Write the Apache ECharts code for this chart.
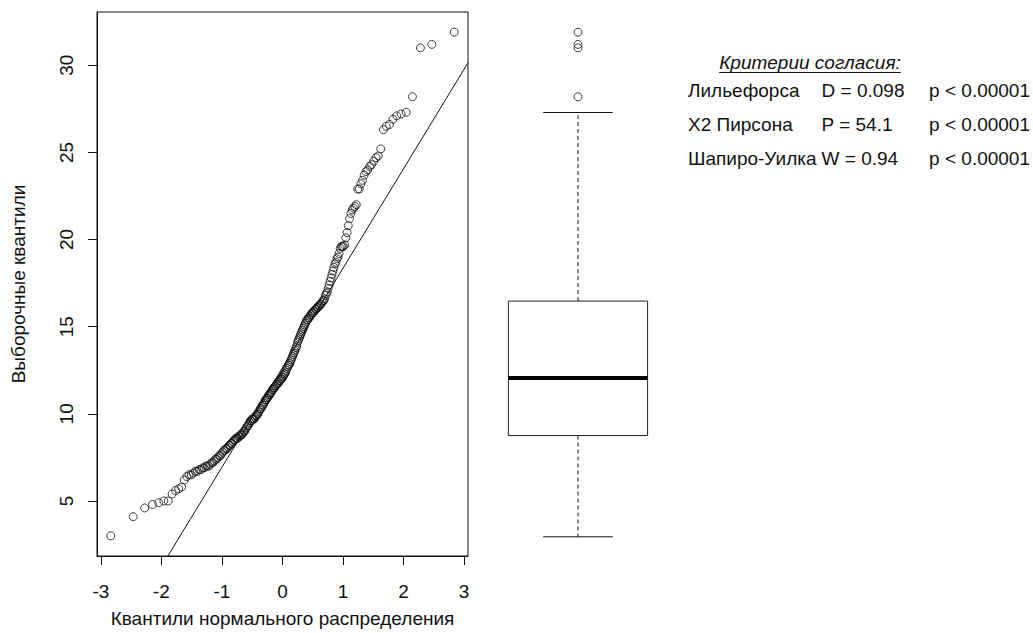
<!DOCTYPE html>
<html>
<head>
<meta charset="utf-8">
<script src="https://cdn.jsdelivr.net/npm/echarts@6/dist/echarts.min.js"></script>
<style>
  html, body { margin: 0; padding: 0; background: #fff; }
  #chart { width: 1033px; height: 633px; }
</style>
</head>
<body>
<div id="chart"></div>
<script>
// Sorted sample (n = 220)
const sampleValues = [
  3.0, 4.1, 4.6, 4.8, 4.9, 5.0, 5.0, 5.4, 5.6, 5.7,
  5.8, 6.2, 6.4, 6.5, 6.5, 6.6, 6.7, 6.7, 6.8, 6.8,
  6.9, 6.9, 7.0, 7.0, 7.0, 7.1, 7.2, 7.2, 7.3, 7.4,
  7.4, 7.5, 7.6, 7.6, 7.7, 7.8, 7.9, 7.9, 8.0, 8.0,
  8.1, 8.2, 8.2, 8.3, 8.3, 8.4, 8.5, 8.5, 8.6, 8.6,
  8.6, 8.7, 8.7, 8.8, 8.8, 8.8, 8.9, 9.0, 9.0, 9.1,
  9.2, 9.3, 9.3, 9.4, 9.5, 9.6, 9.6, 9.7, 9.7, 9.7,
  9.7, 9.8, 9.9, 9.9, 10.0, 10.0, 10.1, 10.2, 10.3, 10.3,
  10.4, 10.5, 10.5, 10.6, 10.7, 10.8, 10.8, 10.9, 10.9, 11.0,
  11.1, 11.1, 11.2, 11.2, 11.3, 11.4, 11.4, 11.5, 11.5, 11.6,
  11.6, 11.7, 11.7, 11.8, 11.8, 11.9, 11.9, 12.0, 12.0, 12.1,
  12.1, 12.2, 12.3, 12.3, 12.4, 12.5, 12.6, 12.7, 12.8, 12.8,
  12.9, 13.0, 13.1, 13.2, 13.3, 13.4, 13.5, 13.6, 13.7, 13.8,
  13.9, 14.1, 14.2, 14.3, 14.4, 14.5, 14.6, 14.7, 14.8, 14.9,
  15.0, 15.1, 15.2, 15.3, 15.4, 15.4, 15.5, 15.5, 15.6, 15.7,
  15.7, 15.8, 15.8, 15.9, 15.9, 16.0, 16.0, 16.1, 16.1, 16.2,
  16.2, 16.3, 16.3, 16.4, 16.5, 16.5, 16.6, 16.8, 16.9, 17.0,
  17.2, 17.4, 17.6, 17.8, 18.0, 18.2, 18.4, 18.6, 18.7, 18.9,
  19.0, 19.2, 19.5, 19.6, 19.6, 19.6, 19.7, 20.1, 20.4, 20.8,
  21.2, 21.5, 21.7, 21.8, 21.9, 22.0, 22.9, 22.9, 23.2, 23.4,
  23.7, 23.9, 24.0, 24.2, 24.3, 24.5, 24.7, 24.8, 25.2, 26.3,
  26.5, 26.6, 26.9, 27.1, 27.2, 27.3, 28.2, 31.0, 31.2, 31.9
];

const xTickValues = [-3, -2, -1, 0, 1, 2, 3];
const yTickValues = [5, 10, 15, 20, 25, 30];

const xTitle = 'Квантили нормального распределения';
const yTitle = 'Выборочные квантили';

const testsTitle = 'Критерии согласия:';
const testNames = ['Лильефорса', 'X2 Пирсона', 'Шапиро-Уилка'];
const testStats = ['D = 0.098', 'P = 54.1', 'W = 0.94'];
const testPValues = ['p < 0.00001', 'p < 0.00001', 'p < 0.00001'];

// Inverse standard normal CDF (Acklam)
function qnorm(p) {
  const a = [-3.969683028665376e+01, 2.209460984245205e+02, -2.759285104469687e+02, 1.383577518672690e+02, -3.066479806614716e+01, 2.506628277459239e+00];
  const b = [-5.447609879822406e+01, 1.615858368580409e+02, -1.556989798598866e+02, 6.680131188771972e+01, -1.328068155288572e+01];
  const c = [-7.784894002430293e-03, -3.223964580411365e-01, -2.400758277161838e+00, -2.549732539343734e+00, 4.374664141464968e+00, 2.938163982698783e+00];
  const d = [7.784695709041462e-03, 3.224671290700398e-01, 2.445134137142996e+00, 3.754408661907416e+00];
  const pl = 0.02425, ph = 1 - pl;
  let q, r;
  if (p < pl) {
    q = Math.sqrt(-2 * Math.log(p));
    return (((((c[0]*q+c[1])*q+c[2])*q+c[3])*q+c[4])*q+c[5]) / ((((d[0]*q+d[1])*q+d[2])*q+d[3])*q+1);
  }
  if (p > ph) {
    q = Math.sqrt(-2 * Math.log(1 - p));
    return -(((((c[0]*q+c[1])*q+c[2])*q+c[3])*q+c[4])*q+c[5]) / ((((d[0]*q+d[1])*q+d[2])*q+d[3])*q+1);
  }
  q = p - 0.5; r = q * q;
  return (((((a[0]*r+a[1])*r+a[2])*r+a[3])*r+a[4])*r+a[5])*q / (((((b[0]*r+b[1])*r+b[2])*r+b[3])*r+b[4])*r+1);
}

const sorted = sampleValues.slice().sort((u, v) => u - v);
const n = sorted.length;

// theoretical quantiles (ppoints, a = 0.5)
const qqData = sorted.map((y, i) => [qnorm((i + 0.5) / n), y]);

// type-7 quantile
function quantile(arr, p) {
  const h = (arr.length - 1) * p;
  const lo = Math.floor(h);
  const hi = Math.min(lo + 1, arr.length - 1);
  return arr[lo] + (h - lo) * (arr[hi] - arr[lo]);
}
// Tukey five-number summary
function fivenum(arr) {
  const m = arr.length;
  const n4 = Math.floor((m + 3) / 2) / 2;
  const idx = [1, n4, (m + 1) / 2, m + 1 - n4, m];
  return idx.map(k => 0.5 * (arr[Math.floor(k) - 1] + arr[Math.ceil(k) - 1]));
}

// reference line through the quartiles
const q1 = quantile(sorted, 0.25), q3 = quantile(sorted, 0.75);
const slope = (q3 - q1) / (qnorm(0.75) - qnorm(0.25));
const intercept = q1 - slope * qnorm(0.25);

// axis extents: data range + 4% each side
const xs = qqData.map(p => p[0]);
const xLo = Math.min(...xs), xHi = Math.max(...xs);
const xMin = xLo - 0.04 * (xHi - xLo), xMax = xHi + 0.04 * (xHi - xLo);
const yLo = sorted[0], yHi = sorted[n - 1];
const yMin = yLo - 0.04 * (yHi - yLo), yMax = yHi + 0.04 * (yHi - yLo);

const lineData = [[xMin, intercept + slope * xMin], [xMax, intercept + slope * xMax]];

// box statistics
const fn = fivenum(sorted);
const hingeSpread = fn[3] - fn[1];
const upperFence = fn[3] + 1.5 * hingeSpread;
const lowerFence = fn[1] - 1.5 * hingeSpread;
const inside = sorted.filter(v => v >= lowerFence && v <= upperFence);
const boxData = [[1, inside[0], fn[1], fn[2], fn[3], inside[inside.length - 1]]];
const outlierData = sorted.filter(v => v < lowerFence || v > upperFence).map(v => [1, v]);

const FONT = "'Liberation Sans', Arial, sans-serif";
const FS = 19;
const INK = '#111';

// text widths for the goodness-of-fit block
const measurer = document.createElement('canvas').getContext('2d');
function textWidth(str, font) { measurer.font = font; return measurer.measureText(str).width; }
const rowFont = FS + 'px ' + FONT;
const titleFont = 'italic ' + FS + 'px ' + FONT;

const nameX = 688;
const statX = nameX + Math.max(...testNames.map(s => textWidth(s, rowFont))) + 5;
const pRight = 1030;
const pX = pRight - Math.max(...testPValues.map(s => textWidth(s, rowFont)));
const titleCX = 810;
const titleW = textWidth(testsTitle, titleFont);

const chart = echarts.init(document.getElementById('chart'), null, { renderer: 'svg' });

const testRowsY = [90, 124, 158];
const graphic = [
  { type: 'text', x: titleCX, y: 62,
    style: { text: testsTitle, fill: INK, font: titleFont, textAlign: 'center', textVerticalAlign: 'middle' } },
  { type: 'line', shape: { x1: titleCX - titleW / 2, y1: 72.5, x2: titleCX + titleW / 2, y2: 72.5 },
    style: { stroke: INK, lineWidth: 1 } }
];
testNames.forEach((name, i) => {
  graphic.push({ type: 'text', x: nameX, y: testRowsY[i],
    style: { text: name, fill: INK, font: rowFont, textVerticalAlign: 'middle' } });
  graphic.push({ type: 'text', x: statX, y: testRowsY[i],
    style: { text: testStats[i], fill: INK, font: rowFont, textVerticalAlign: 'middle' } });
  graphic.push({ type: 'text', x: pX, y: testRowsY[i],
    style: { text: testPValues[i], fill: INK, font: rowFont, textVerticalAlign: 'middle' } });
});

chart.setOption({
  animation: false,
  backgroundColor: '#fff',
  grid: [
    { left: 97, top: 12, width: 371, height: 545, show: true, borderColor: INK, borderWidth: 1, backgroundColor: 'transparent' },
    { left: 491, top: 12, width: 174, height: 545, show: false }
  ],
  xAxis: [
    {
      type: 'value', gridIndex: 0, min: xMin, max: xMax,
      axisLine: { show: true, onZero: false, lineStyle: { color: INK, width: 1 } },
      axisTick: { show: true, length: 9, lineStyle: { color: INK }, customValues: xTickValues },
      axisLabel: { customValues: xTickValues, margin: 26, color: INK, fontSize: FS, fontFamily: FONT },
      splitLine: { show: false },
      name: xTitle, nameLocation: 'middle', nameGap: 53,
      nameTextStyle: { color: INK, fontSize: FS, fontFamily: FONT }
    },
    { type: 'value', gridIndex: 1, min: 0.5, max: 1.5, show: false }
  ],
  yAxis: [
    {
      type: 'value', gridIndex: 0, min: yMin, max: yMax,
      axisLine: { show: true, onZero: false, lineStyle: { color: INK, width: 1 } },
      axisTick: { show: true, length: 9, lineStyle: { color: INK }, customValues: yTickValues },
      axisLabel: { customValues: yTickValues, rotate: 90, margin: 21, color: INK, fontSize: FS, fontFamily: FONT },
      splitLine: { show: false },
      name: yTitle, nameLocation: 'middle', nameGap: 69, nameRotate: 90,
      nameTextStyle: { color: INK, fontSize: FS, fontFamily: FONT }
    },
    { type: 'value', gridIndex: 1, min: yMin, max: yMax, show: false }
  ],
  graphic: graphic,
  series: [
    {
      type: 'scatter', xAxisIndex: 0, yAxisIndex: 0,
      data: qqData, symbol: 'circle', symbolSize: 8,
      itemStyle: { color: 'transparent', borderColor: INK, borderWidth: 1 },
      silent: true
    },
    {
      type: 'line', xAxisIndex: 0, yAxisIndex: 0,
      data: lineData, showSymbol: false, clip: true,
      lineStyle: { color: INK, width: 1 }, silent: true
    },
    {
      type: 'custom', xAxisIndex: 1, yAxisIndex: 1,
      data: boxData,
      encode: { x: 0, y: [1, 2, 3, 4, 5] },
      renderItem: function (params, api) {
        const x = api.value(0);
        const lo = api.value(1), b1 = api.value(2), med = api.value(3), b3 = api.value(4), hi = api.value(5);
        const half = 0.4, cap = 0.2;
        const tl = api.coord([x - half, b3]);
        const br = api.coord([x + half, b1]);
        const cx = api.coord([x, med])[0];
        const yMed = api.coord([x, med])[1];
        const yLoW = api.coord([x, lo])[1];
        const yHiW = api.coord([x, hi])[1];
        const capL = api.coord([x - cap, lo])[0];
        const capR = api.coord([x + cap, lo])[0];
        const dash = { stroke: INK, lineWidth: 1, lineDash: [4, 3] };
        const solid = { stroke: INK, lineWidth: 1 };
        return {
          type: 'group',
          children: [
            { type: 'line', shape: { x1: cx, y1: tl[1], x2: cx, y2: yHiW }, style: dash },
            { type: 'line', shape: { x1: cx, y1: br[1], x2: cx, y2: yLoW }, style: dash },
            { type: 'line', shape: { x1: capL, y1: yHiW, x2: capR, y2: yHiW }, style: solid },
            { type: 'line', shape: { x1: capL, y1: yLoW, x2: capR, y2: yLoW }, style: solid },
            { type: 'rect', shape: { x: tl[0], y: tl[1], width: br[0] - tl[0], height: br[1] - tl[1] },
              style: { fill: 'transparent', stroke: '#222', lineWidth: 1 } },
            { type: 'line', shape: { x1: tl[0], y1: yMed, x2: br[0], y2: yMed }, style: { stroke: '#000', lineWidth: 4 } }
          ]
        };
      },
      silent: true
    },
    {
      type: 'scatter', xAxisIndex: 1, yAxisIndex: 1,
      data: outlierData, symbol: 'circle', symbolSize: 8,
      itemStyle: { color: 'transparent', borderColor: INK, borderWidth: 1 },
      silent: true
    }
  ]
});
</script>
</body>
</html>
